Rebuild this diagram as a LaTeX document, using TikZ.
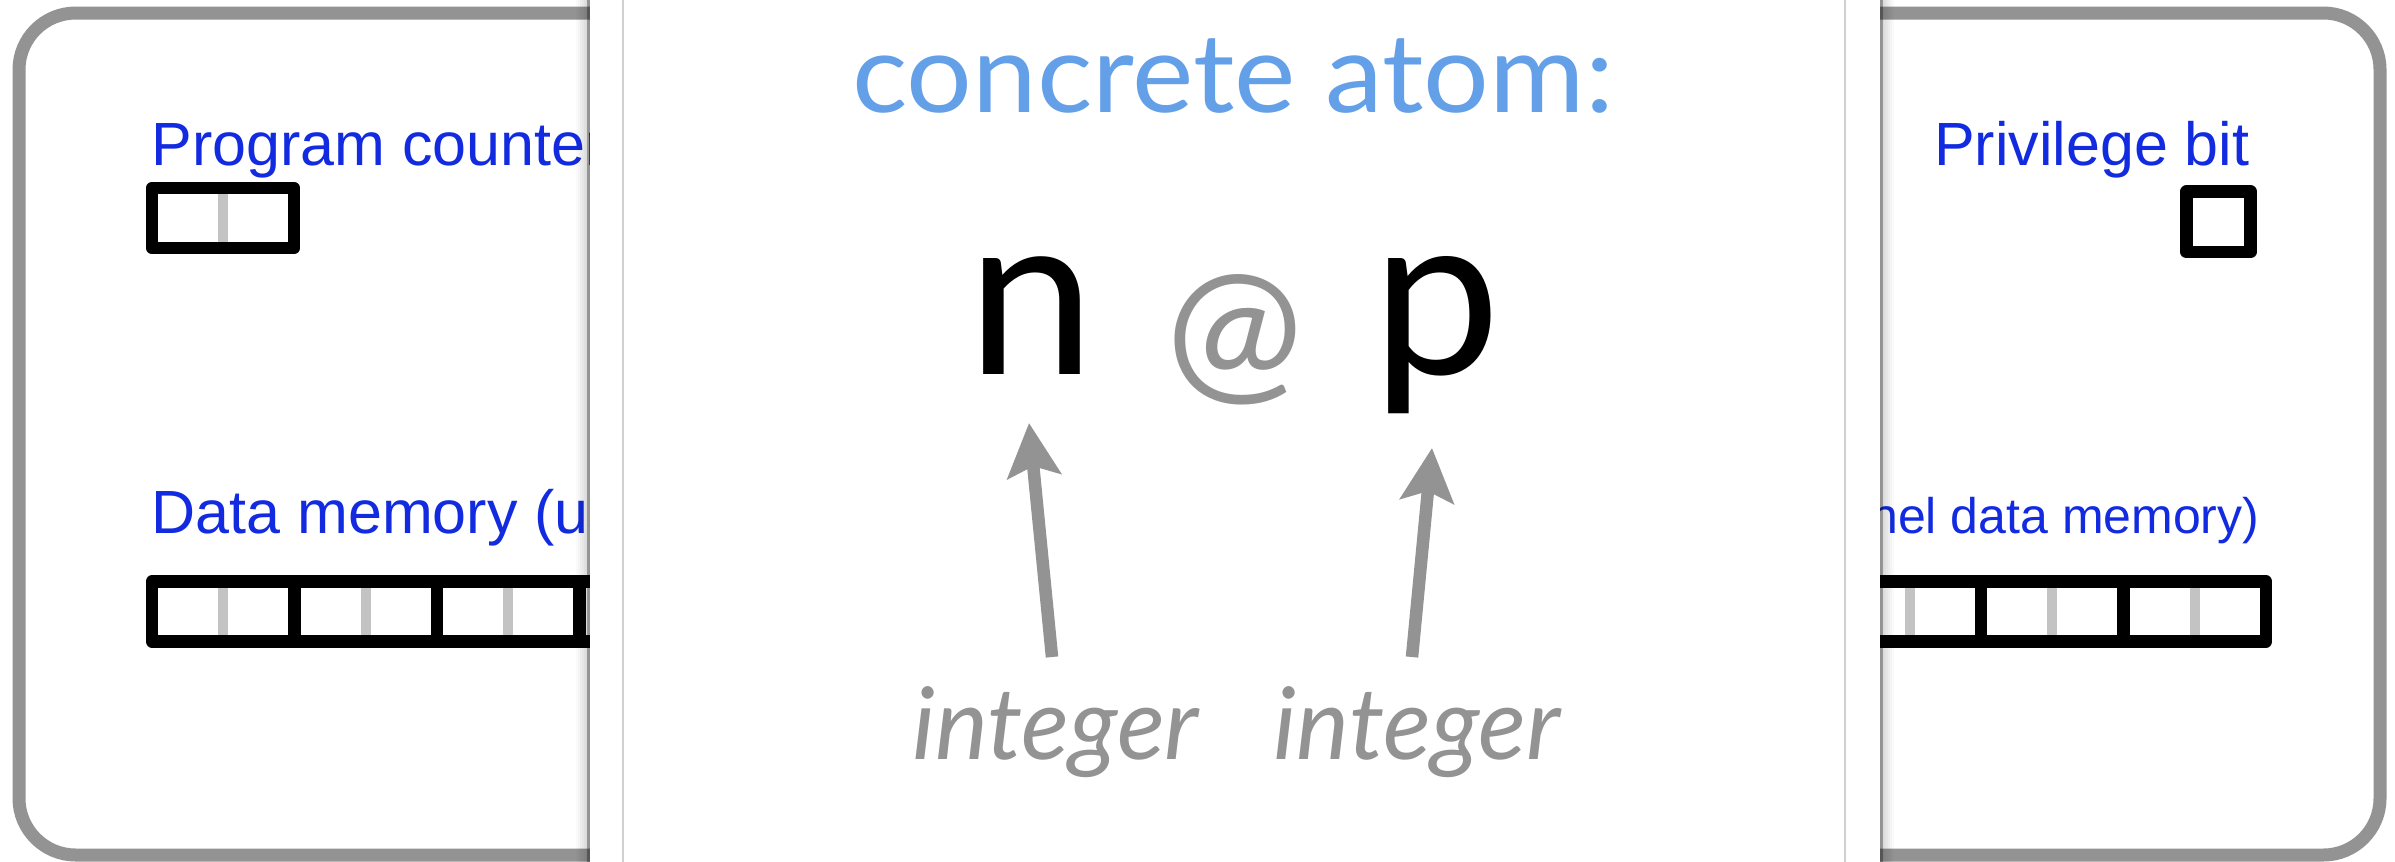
\documentclass[tikz,border=0pt]{standalone}
\usepackage{fontspec}
\setmainfont{Liberation Sans}
\newfontfamily\atomfont{Lato}
\usetikzlibrary{arrows.meta}
\definecolor{boxgray}{HTML}{939393}
\definecolor{labelblue}{HTML}{122BE0}
\definecolor{titleblue}{HTML}{64A0E8}
\definecolor{divgray}{HTML}{C3C3C3}
\definecolor{argray}{HTML}{939393}
\definecolor{rulegray}{HTML}{D0D0D0}
\tikzset{
  lbl/.style={inner sep=0pt, text=labelblue, font=\fontsize{18.3pt}{18.3pt}\selectfont},
  lblsmall/.style={inner sep=0pt, text=labelblue, font=\fontsize{15pt}{15pt}\selectfont},
  regbox/.style={draw=black, line width=3.75pt, line join=round},
  halfdiv/.style={draw=divgray, line width=3pt},
  celldiv/.style={draw=black, line width=3.75pt},
  atomarrow/.style={draw=argray, line width=3.75pt, -{Stealth[length=16pt,width=16pt,inset=3pt]}},
  bigglyph/.style={inner sep=0pt, font=\atomfont\fontsize{68.7pt}{68.7pt}\selectfont},
  typelbl/.style={inner sep=0pt, text=argray, font=\atomfont\itshape\fontsize{30pt}{30pt}\selectfont},
}
\begin{document}
\begin{tikzpicture}[x=0.3pt,y=-0.3pt]
\useasboundingbox (0,0) rectangle (2395,861);
\fill[white] (0,0) rectangle (2395,861);
% outer machine box
\draw[draw=boxgray, line width=3.9pt, rounded corners=17pt] (19,13) rectangle (2380,855);
% labels
\node[lbl, anchor=base west] (pclbl) at (151,165) {Program counter};
\node[lbl, anchor=base west] (memlbl) at (151,533) {Data memory (user data memory)};
\node[lblsmall, anchor=base east] (kmemlbl) at (2260,533) {(kernel data memory)};
\node[lbl, anchor=base east] (privlbl) at (2250,165) {Privilege bit};
% program counter register
\draw[halfdiv] (222.5,192) -- (222.5,244);
\draw[regbox] (152,188) rectangle (294,248);
% privilege bit
\draw[regbox] (2186.5,191.5) rectangle (2250.5,252);
% data memory
\foreach \x in {223,365.5,508,650.5,1767,1909.5,2052,2194.5}
  \draw[halfdiv] (\x,586) -- (\x,637);
\foreach \x in {294.5,437,579.5,722,1838.5,1981,2123.5}
  \draw[celldiv] (\x,581.5) -- (\x,641.5);
\draw[regbox] (152,581.5) rectangle (2266,641.5);
% panel shadow
\foreach \i in {0,...,6} {
  \fill[black, opacity=0.02+0.025*\i] ({576+2*\i},-5) rectangle ({578+2*\i},866);
  \fill[black, opacity=0.02+0.025*\i] ({1892-2*\i},-5) rectangle ({1894-2*\i},866);
}
\fill[black, opacity=0.3] (587,-5) rectangle (590,866);
\fill[black, opacity=0.3] (1880,-5) rectangle (1883,866);
% panel
\fill[white] (590,-5) rectangle (1880,866);
\draw[draw=rulegray, line width=0.6pt] (623,-5) -- (623,866);
\draw[draw=rulegray, line width=0.6pt] (1845,-5) -- (1845,866);
% panel content
\node[inner sep=0pt, anchor=base, text=titleblue, font=\atomfont\fontsize{33pt}{33pt}\selectfont] (title) at (1233,112.7) {\scalebox{1.055}[1]{concrete atom:}};
\node[bigglyph, anchor=base] (nval) at (1031.5,374) {n};
\node[inner sep=0pt, text=argray, font=\atomfont\fontsize{49pt}{49pt}\selectfont] (at) at (1234.5,339.5) {@};
\node[bigglyph, anchor=base] (pval) at (1436.5,374) {p};
\node[typelbl, anchor=base] (nty) at (1055.5,759) {integer};
\node[typelbl, anchor=base] (pty) at (1417,759) {integer};
\coordinate (nTail) at (1052,657);
\coordinate (nTip) at (1029,423);
\coordinate (pTail) at (1412,657);
\coordinate (pTip) at (1432,448);
\draw[atomarrow] (nTail) -- (nTip);
\draw[atomarrow] (pTail) -- (pTip);
\end{tikzpicture}
\end{document}
